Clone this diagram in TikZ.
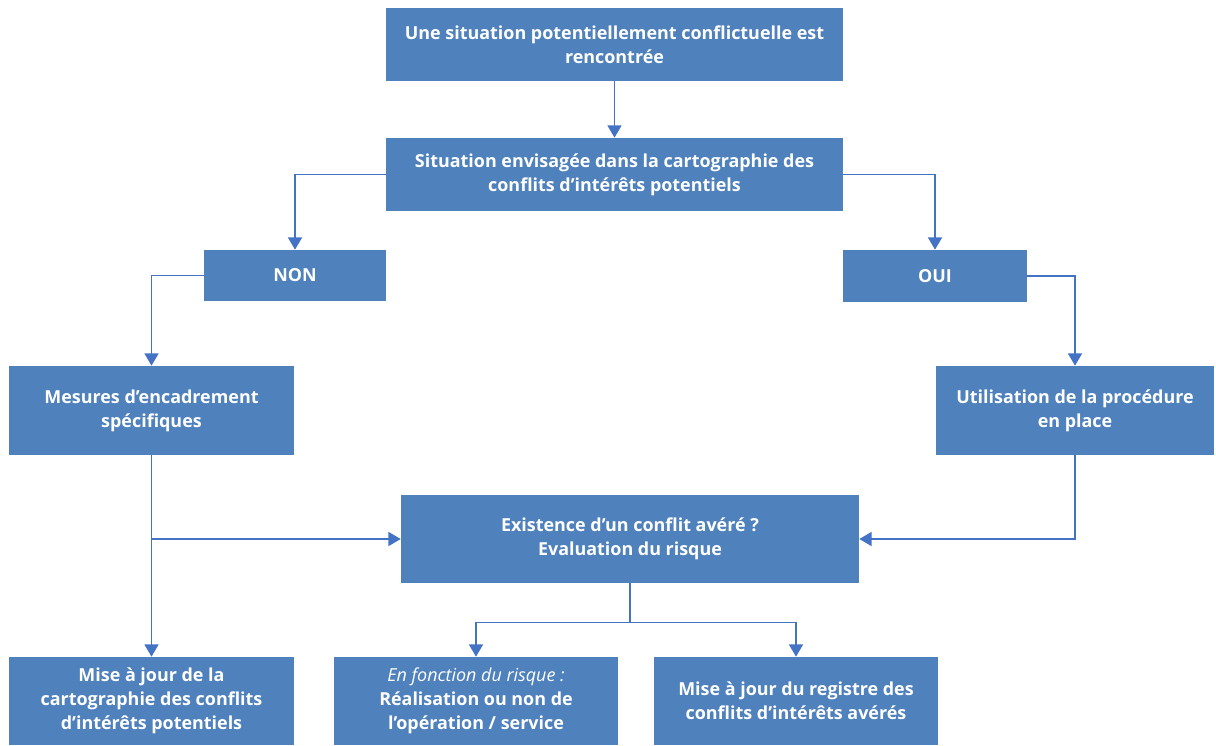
\documentclass[tikz,border=0pt]{standalone}
\usepackage{fontspec}
\setmainfont{Open Sans}
\usetikzlibrary{positioning, arrows.meta}

\definecolor{boxblue}{HTML}{4F81BD}
\definecolor{lineblue}{HTML}{4472C4}

\tikzset{
    block/.style = {rectangle, fill = boxblue, text = white, align = center,
        font = \fontsize{10.2}{13.6}\selectfont\bfseries, inner sep = 2pt},
    flow/.style = {draw = lineblue, line width = 0.8pt, -{Triangle[length = 7pt, width = 8pt]}},
    link/.style = {draw = lineblue, line width = 0.8pt}
}

\begin{document}
\begin{tikzpicture}[x = 0.02cm, y = -0.02cm]
\useasboundingbox (0, 0) rectangle (1216, 745);

\node[block, minimum height = 1.46cm, minimum width = 9.14cm] (start) at (614.5, 44.5) {Une situation potentiellement conflictuelle est\\ rencontrée};
\node[block, minimum height = 1.46cm, minimum width = 9.14cm] (carto) at (614.5, 174.5) {Situation envisagée dans la cartographie des\\ conflits d’intérêts potentiels};
    \draw [flow] (start) -- (carto);

\node[block, minimum height = 1.02cm, minimum width = 3.64cm] (non) at (295, 275.5) {NON};
\node[block, minimum height = 1.04cm, minimum width = 3.68cm] (oui) at (935, 276) {OUI};
    \draw [flow] (carto.west) -| (non.north);
    \draw [flow] (carto.east) -| (oui.north);

\node[block, minimum height = 1.78cm, minimum width = 5.7cm] (mesures) at (151.5, 410.5) {Mesures d’encadrement\\ spécifiques};
\node[block, minimum height = 1.78cm, minimum width = 5.56cm] (procedure) at (1075, 410.5) {Utilisation de la procédure\\ en place};
    \draw [flow] (non.west) -| (mesures.north);
    \draw [flow] (oui.east) -| (procedure.north);

\node[block, minimum height = 1.76cm, minimum width = 9.16cm] (existence) at (630, 539) {Existence d’un conflit avéré ?\\ Evaluation du risque};

\node[block, minimum height = 1.76cm, minimum width = 5.7cm] (majcarto) at (151.5, 701) {Mise à jour de la\\ cartographie des conflits\\ d’intérêts potentiels};
\node[block, minimum height = 1.76cm, minimum width = 5.68cm] (risque) at (476, 701) {\mdseries\itshape En fonction du risque :\\ Réalisation ou non de\\ l’opération / service};
\node[block, minimum height = 1.76cm, minimum width = 5.68cm] (registre) at (796, 701) {Mise à jour du registre des\\ conflits d’intérêts avérés};

    \draw [flow] (mesures.south) -- (majcarto.north);
    \coordinate (branch) at (mesures.south |- existence.west);
    \draw [flow] (branch) -- (existence.west);
    \draw [flow] (procedure.south) |- (existence.east);

    \draw [link] (existence.south) -- ++(0, 39) coordinate (split);
    \draw [flow] (split) -| (risque.north);
    \draw [flow] (split) -| (registre.north);
\end{tikzpicture}
\end{document}
